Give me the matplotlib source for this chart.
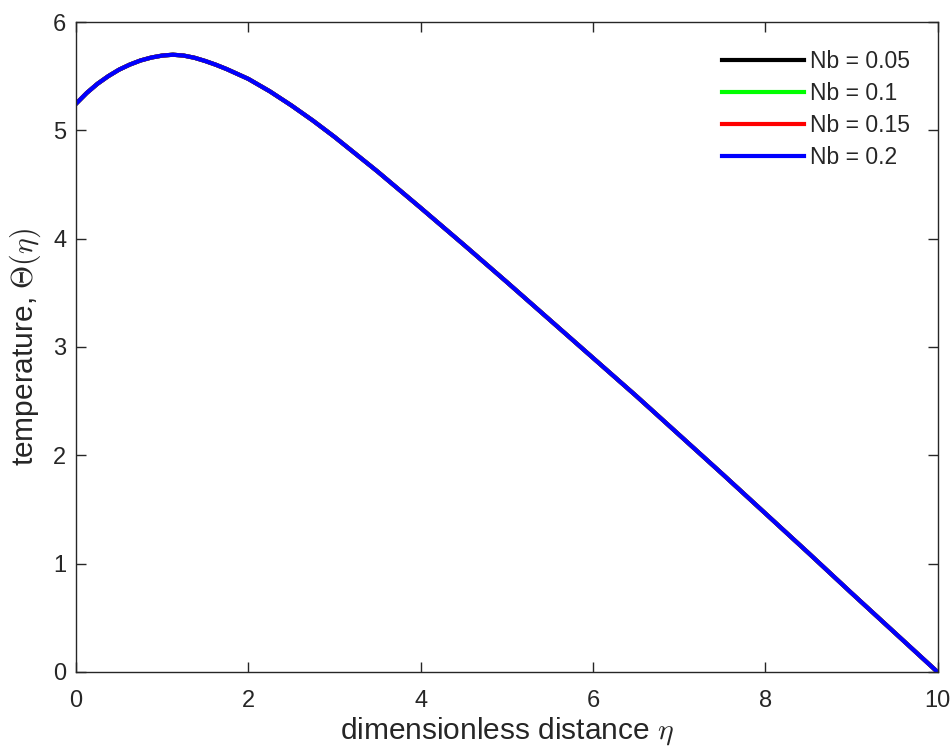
import numpy as np
import matplotlib
matplotlib.use("Agg")
import matplotlib.pyplot as plt

plt.rcParams['font.family'] = ['Liberation Sans', 'DejaVu Sans']
plt.rcParams['mathtext.fontset'] = 'cm'

# Similarity variable and temperature profile
eta = [0.0, 0.125, 0.25, 0.375, 0.5, 0.625, 0.75, 0.875, 1.0, 1.125, 1.25,
       1.375, 1.5, 1.625, 1.75, 2.0, 2.25, 2.5, 2.75, 3.0, 3.5, 4.0, 4.5,
       5.0, 5.5, 6.0, 6.5, 7.0, 7.5, 8.0, 8.5, 9.0, 9.5, 10.0]
theta_nb_005 = [5.245, 5.345, 5.43, 5.50, 5.56, 5.607, 5.645, 5.672, 5.69,
                5.698, 5.69, 5.67, 5.64, 5.605, 5.565, 5.475, 5.36, 5.23,
                5.09, 4.94, 4.62, 4.285, 3.945, 3.60, 3.25, 2.90, 2.55,
                2.19, 1.83, 1.465, 1.10, 0.73, 0.365, 0.0]
theta_nb_01 = list(theta_nb_005)
theta_nb_015 = list(theta_nb_005)
theta_nb_02 = list(theta_nb_005)

labels = ['Nb = 0.05', 'Nb = 0.1', 'Nb = 0.15', 'Nb = 0.2']
colors = ['#000000', '#00ff00', '#ff0000', '#0000ff']
series = [theta_nb_005, theta_nb_01, theta_nb_015, theta_nb_02]

fig = plt.figure(figsize=(9.52, 7.51), dpi=100)
ax = fig.add_axes([0.0798, 0.1052, 0.9050, 0.8655])

for y, c, lab in zip(series, colors, labels):
    ax.plot(eta, y, color=c, lw=3.0, label=lab, solid_joinstyle='round')

ax.set_xlim(0, 10)
ax.set_ylim(0, 6)
ax.set_xticks(np.arange(0, 11, 2))
ax.set_yticks(np.arange(0, 7, 1))

axcol = '#262626'
for s in ax.spines.values():
    s.set_color(axcol)
    s.set_linewidth(1.0)
ax.tick_params(direction='in', length=7, width=1.0, colors=axcol,
               labelsize=17, top=True, right=True)
ax.tick_params(axis='x', pad=13)
ax.tick_params(axis='y', pad=7)

ax.set_xlabel(r'dimensionless distance $\eta$', fontsize=21.5, color=axcol,
              labelpad=2)
ax.set_ylabel(r'temperature, $\Theta(\eta)$', fontsize=21.5, color=axcol,
              labelpad=7)

leg = ax.legend(loc='upper right', bbox_to_anchor=(0.992, 0.988),
                frameon=False, fontsize=16.5, handlelength=3.6,
                handletextpad=0.25, labelspacing=0.38, borderaxespad=0.5)
for t in leg.get_texts():
    t.set_color(axcol)

fig.savefig('out.png', dpi=100, facecolor='white')
